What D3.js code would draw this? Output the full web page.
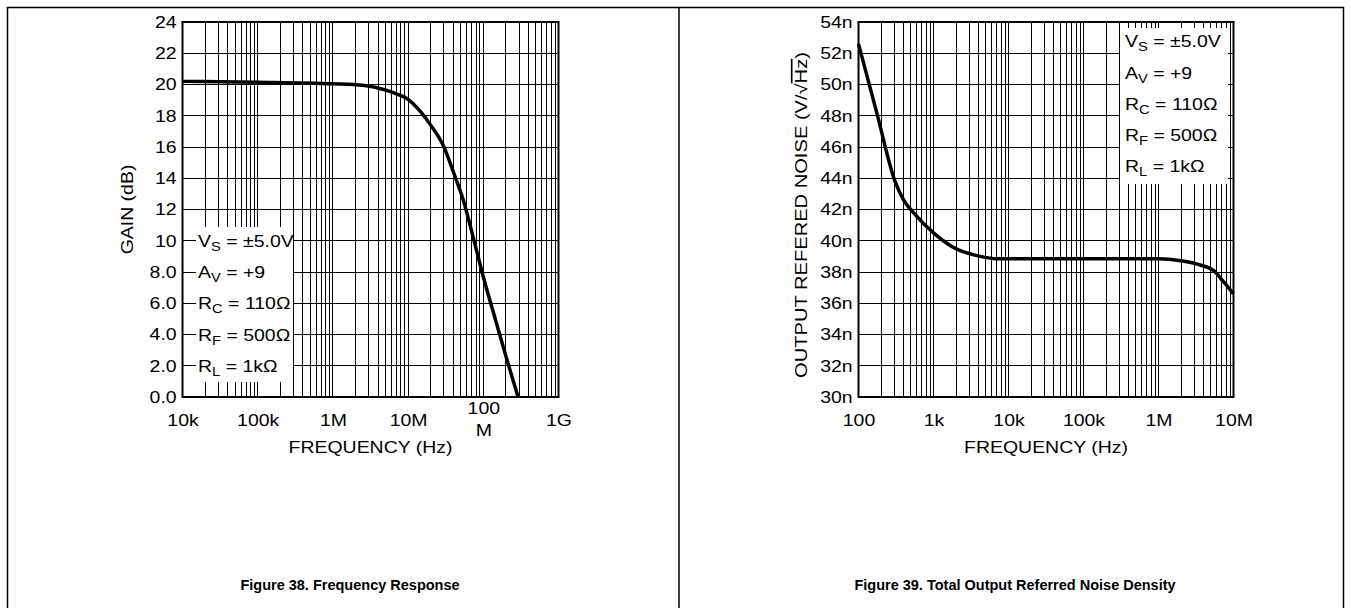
<!DOCTYPE html>
<html><head><meta charset="utf-8">
<script src="https://cdn.jsdelivr.net/npm/d3@7"></script>
<style>
body{margin:0;background:#fff}
text{font-family:"Liberation Sans",Arial,Helvetica,sans-serif;fill:#000}
</style></head>
<body><svg id="c" width="1351" height="608"></svg>
<script>
// ---------- data ----------
const gainFreq = [1e4, 1e5, 1e6, 2.5e6, 5e6, 7e6, 1e7, 1.5e7, 2e7, 3e7, 4e7, 5.5e7, 7e7, 1e8, 1.5e8, 2e8, 2.9e8];
const gainDb   = [20.2, 20.15, 20.05, 19.95, 19.65, 19.4, 19.05, 18.2, 17.4, 16.0, 14.4, 12.5, 10.6, 7.7, 4.7, 2.6, 0.0];
const gainYTicks = [0, 2, 4, 6, 8, 10, 12, 14, 16, 18, 20, 22, 24];
const gainXTicks = [1e4, 1e5, 1e6, 1e7, 1e8, 1e9];
const gainXLabels = ["10k", "100k", "1M", "10M", "100|M", "1G"];

const noiseFreq = [100, 175, 307, 400, 540, 1000, 1800, 4200, 7000, 2e4, 1e5, 1e6, 2e6, 3.6e6, 5.4e6, 7.3e6, 1e7];
const noiseNv   = [52.6, 48.2, 43.8, 42.6, 41.8, 40.5, 39.6, 39.0, 38.85, 38.85, 38.85, 38.85, 38.72, 38.45, 38.1, 37.4, 36.6];
const noiseYTicks = [30, 32, 34, 36, 38, 40, 42, 44, 46, 48, 50, 52, 54];
const noiseXTicks = [1e2, 1e3, 1e4, 1e5, 1e6, 1e7];
const noiseXLabels = ["100", "1k", "10k", "100k", "1M", "10M"];

const condMain = ["V", "A", "R", "R", "R"];
const condSub  = ["S", "V", "C", "F", "L"];
const condRest = [" = \u00b15.0V", " = +9", " = 110\u03a9", " = 500\u03a9", " = 1k\u03a9"];
const gainCondAt  = [10, 8, 6, 4, 2];
const noiseCondAt = [52, 50, 48, 46, 44];

const captions = ["Figure 38. Frequency Response", "Figure 39. Total Output Referred Noise Density"];

// ---------- drawing ----------
const SX = 1.18, FS = 16.5;
const svg = d3.select("#c");
svg.append("rect").attr("width", 1351).attr("height", 608).attr("fill", "#fff");

function label(parent, x, y, str, opt = {}) {
  const g = parent.append("g").attr("transform",
    `translate(${x},${y})` + (opt.rotate ? ` rotate(${opt.rotate})` : "") + ` scale(${opt.sx || SX},1)`);
  const t = g.append("text").attr("text-anchor", opt.anchor || "start")
    .attr("font-size", opt.size || FS).attr("font-weight", opt.weight || "normal");
  if (str !== null) t.text(str);
  return t;
}

// frame
svg.append("path").attr("d", "M7.5,608 V7.5 H1343.5 V608").attr("fill", "none").attr("stroke", "#000").attr("stroke-width", 1.5);
svg.append("line").attr("x1", 679).attr("x2", 679).attr("y1", 7).attr("y2", 608).attr("stroke", "#000").attr("stroke-width", 1.5);

const TOP = 22, BOT = 397;

function panel(cfg) {
  const g = svg.append("g");
  const x = d3.scaleLog().domain(cfg.xDomain).range([cfg.left, cfg.right]);
  const y = d3.scaleLinear().domain(cfg.yDomain).range([BOT, TOP]);

  // vertical log grid
  const vals = [];
  const d0 = Math.round(Math.log10(cfg.xDomain[0])), d1 = Math.round(Math.log10(cfg.xDomain[1]));
  for (let d = d0; d < d1; d++) for (let k = 1; k <= 9; k++) vals.push(k * Math.pow(10, d));
  g.append("g").selectAll("line").data(vals).join("line")
    .attr("x1", d => x(d)).attr("x2", d => x(d)).attr("y1", TOP).attr("y2", BOT)
    .attr("stroke", "#000").attr("stroke-width", 1).attr("shape-rendering", "crispEdges");
  g.append("g").selectAll("line").data(cfg.yTicks).join("line")
    .attr("x1", cfg.left).attr("x2", cfg.right).attr("y1", d => y(d)).attr("y2", d => y(d))
    .attr("stroke", "#000").attr("stroke-width", 1).attr("shape-rendering", "crispEdges");

  // condition box
  const b = cfg.box;
  g.append("rect").attr("x", b[0]).attr("y", b[1]).attr("width", b[2] - b[0]).attr("height", b[3] - b[1]).attr("fill", "#fff");
  cfg.condAt.forEach((v, i) => {
    const t = label(g, cfg.condX, y(v) + cfg.condDy, null);
    t.append("tspan").text(condMain[i]);
    t.append("tspan").attr("font-size", 12.5).attr("dy", 4).text(condSub[i]);
    t.append("tspan").attr("font-size", FS).attr("dy", -4).text(condRest[i]);
  });

  // curve
  const line = d3.line().x(d => x(d[0])).y(d => y(d[1])).curve(d3.curveMonotoneX);
  g.append("path").datum(cfg.xs.map((f, i) => [f, cfg.ys[i]])).attr("d", line)
    .attr("fill", "none").attr("stroke", "#000").attr("stroke-width", 3.5).attr("stroke-linejoin", "round");

  // border
  g.append("rect").attr("x", cfg.left).attr("y", TOP).attr("width", cfg.right - cfg.left).attr("height", BOT - TOP)
    .attr("fill", "none").attr("stroke", "#000").attr("stroke-width", 2);

  // y axis
  const ya = g.append("g").attr("transform", `translate(${cfg.left},0)`)
    .call(d3.axisLeft(y).tickValues(cfg.yTicks).tickSize(0).tickPadding(5).tickFormat(cfg.yFmt));
  ya.select(".domain").remove();
  ya.selectAll("text").attr("font-size", FS).attr("font-family", null).attr("transform", `scale(${SX},1)`);

  // x axis
  const xa = g.append("g").attr("transform", `translate(0,${BOT})`)
    .call(d3.axisBottom(x).tickValues(cfg.xTicks).tickSize(0).tickPadding(17).tickFormat((d, i) => cfg.xLabels[i]));
  xa.select(".domain").remove();
  xa.selectAll("text").attr("font-size", FS).attr("font-family", null).attr("transform", `scale(${SX},1)`)
    .each(function () {
      const s = d3.select(this), parts = s.text().split("|");
      if (parts.length > 1) {
        s.text(null).attr("y", 5);
        parts.forEach((p, j) => s.append("tspan").attr("x", 0).attr("dy", j === 0 ? "0.71em" : "1.33em").text(p));
      }
    });

  label(g, (cfg.left + cfg.right) / 2, 453, "FREQUENCY (Hz)", { anchor: "middle" });
  return { g, x, y };
}

const p1 = panel({
  left: 182.5, right: 558.5, xDomain: [1e4, 1e9], yDomain: [0, 24],
  yTicks: gainYTicks, yFmt: d => d >= 10 ? String(d) : d.toFixed(1),
  xTicks: gainXTicks, xLabels: gainXLabels,
  xs: gainFreq, ys: gainDb,
  box: [196, 227, 293, 382], condAt: gainCondAt, condX: 198, condDy: 6
});
label(svg, 133, (TOP + BOT) / 2, "GAIN (dB)", { anchor: "middle", rotate: -90 });

const p2 = panel({
  left: 858.5, right: 1233.5, xDomain: [1e2, 1e7], yDomain: [30, 54],
  yTicks: noiseYTicks, yFmt: d => d + "n",
  xTicks: noiseXTicks, xLabels: noiseXLabels,
  xs: noiseFreq, ys: noiseNv,
  box: [1120, 28, 1228, 184], condAt: noiseCondAt, condX: 1125, condDy: -6
});
const yt = label(svg, 807, 215, null, { anchor: "middle", rotate: -90, sx: 1.22 });
yt.append("tspan").text("OUTPUT REFERED NOISE (V/\u221a");
yt.append("tspan").attr("text-decoration", "overline").text("Hz");
yt.append("tspan").text(")");

label(svg, 350, 590, captions[0], { anchor: "middle", weight: "bold", size: 14.5, sx: 1.0 });
label(svg, 1015, 590, captions[1], { anchor: "middle", weight: "bold", size: 14.5, sx: 1.0 });
</script></body></html>
